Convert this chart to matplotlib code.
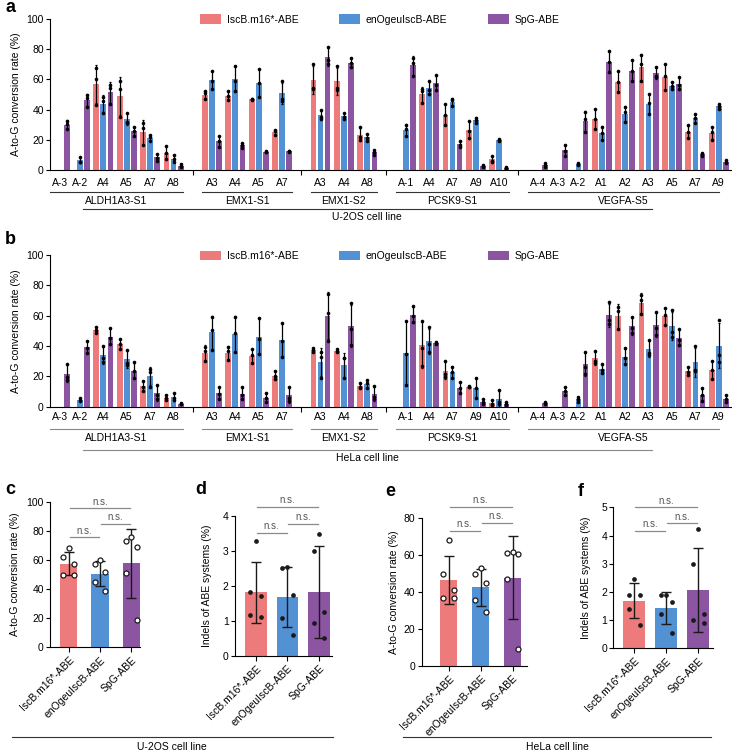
import numpy as np
import matplotlib
matplotlib.use('Agg')
import matplotlib.pyplot as plt
from matplotlib import transforms
from matplotlib.patches import Patch

plt.rcParams['font.family'] = ['Liberation Sans', 'DejaVu Sans']
plt.rcParams['font.size'] = 7.5
plt.rcParams['axes.linewidth'] = 0.8

# ---------------- data ----------------
SERIES = ['IscB.m16*-ABE', 'enOgeuIscB-ABE', 'SpG-ABE']
COLORS = ['#EE7B7B', '#5391D5', '#8C55A2']

GENES = ['ALDH1A3-S1', 'EMX1-S1', 'EMX1-S2', 'PCSK9-S1', 'VEGFA-S5']
SITES = [['A-3', 'A-2', 'A4', 'A5', 'A7', 'A8'],
         ['A3', 'A4', 'A5', 'A7'],
         ['A3', 'A4', 'A8'],
         ['A-1', 'A4', 'A7', 'A9', 'A10'],
         ['A-4', 'A-3', 'A-2', 'A1', 'A2', 'A3', 'A5', 'A7', 'A9']]

# U-2OS replicates (per site, gene order as above); None = not plotted
U2OS_ISCB = [None, None, [67.5, 60.5, 43], [59, 53.5, 35], [31, 28, 16.5], [16, 11, 7],
             [52, 51, 47], [52, 49, 46.5], [47.2, 46.8, 46.4], [26.5, 25.5, 23.5],
             [70, 54.5, 53.5], [69, 54.5, 53], [28.5, 22, 20],
             None, [53.5, 52.5, 44.5], [43.5, 36.5, 30], [32.5, 26, 21], [9.5, 6.2, 5.5],
             None, None, None, [40.5, 34, 27], [65.5, 58, 51.5], [76, 70, 59], [70, 62, 53],
             [29.5, 25, 21], [28.5, 25, 20]]
U2OS_ENOG = [None, [8.5, 5.5, 5], [48.5, 45.5, 37.5], [38, 32, 31], [23, 22, 19.5], [10, 7, 5.5],
             [65.5, 59, 53.5], [69, 59, 52], [67, 57.5, 48.5], [59, 47, 46],
             [39.5, 35, 34], [38, 35, 34], [24, 21.5, 19.5],
             [30, 27, 22.5], [59, 53, 50.5], [47, 46.4, 42.6], [34.7, 33, 30.9], [20.3, 19.9, 19.4],
             None, None, [4.9, 4, 3.3], [28.7, 24.7, 20], [41.5, 38.6, 31.6], [50.3, 44.2, 37.2],
             [58.5, 55.6, 53.4], [37.1, 34.2, 31.3], [43.7, 42.6, 40.2]]
U2OS_SPG = [[32.5, 30.5, 27], [49.5, 48, 41.5], [56.5, 54, 43.5], [28.7, 25.6, 22.7], [10.6, 8.2, 6.2], [3.7, 2.9, 2.2],
            [22.5, 19.4, 15.5], [17.7, 16.6, 14.8], [12.8, 12.1, 11.7], [12.8, 12.3, 11.8],
            [81.7, 72.8, 70.2], [74, 70.6, 68], [13.2, 12.1, 9.9],
            [74.4, 71, 62.5], [62.9, 56.3, 53], [19.2, 16.6, 15.5], [3.3, 2.6, 2.0], [2.0, 1.5, 1.1],
            [4.4, 3.3, 2.2], [16.6, 12.8, 9.5], [38.6, 33.8, 25], [79, 71.3, 64.7], [72.8, 65.6, 59.2],
            [68, 62.3, 61.8], [61.4, 56.3, 53.4], [11, 10.4, 9.5], [6.6, 5.5, 4.4]]

# HeLa replicates
HELA_ISCB = [None, None, [52.7, 50.5, 48.4], [44.4, 41.3, 38], [17.1, 12.7, 10.5], [7.7, 5.5, 4.4],
             [39.6, 36.9, 30.1], [39.6, 36.7, 30.8], [37.8, 34.1, 28.6], [23.5, 20, 18],
             [38.9, 37.4, 36.3], [38, 36.9, 35.8], [15.4, 13.2, 12.5],
             None, [56.5, 39, 26.5], [30, 21.5, 19.5], [13.8, 13.2, 12.7], [4.5, 2, 1],
             None, None, None, [36.9, 30.1, 28.6], [65.5, 63.1, 51], [73.6, 70.3, 61.1],
             [64.8, 60.4, 53.8], [26.4, 23.1, 20.9], [30.3, 24.2, 18]]
HELA_ENOG = [None, [5.9, 4.4, 3.7], [40, 31.9, 29.7], [37.4, 28.6, 27.5], [24.8, 22.6, 13.2], [9.2, 5.5, 4.4],
             [59.3, 50.5, 37.4], [59.3, 48.8, 35.8], [58.7, 44.6, 34.7], [55, 43, 33],
             [36.3, 33, 18.7], [32.3, 31.9, 18.7], [17.6, 15.4, 12.1],
             [56.5, 35, 14], [52.3, 41.1, 36.3], [26.4, 23.1, 19.1], [18.7, 12.1, 5.9], [11, 3, 1.5],
             None, None, [6.6, 4.8, 3.3], [28, 24, 22.5], [38.5, 31.9, 27.9], [44, 35.6, 34.1],
             [63.7, 49.5, 46.2], [40, 24.2, 23.5], [57.1, 34, 29.2]]
HELA_SPG = [[27.9, 19.8, 17.6], [43.5, 38.5, 35.5], [51.6, 45, 41.1], [29.2, 23.5, 18.7], [14.3, 7.7, 4.8], [2.5, 2, 1.5],
            [13.2, 8.4, 5.1], [12.7, 7.7, 4.8], [9.2, 5.5, 3.3], [13, 6, 3.5],
            [74.5, 62, 43.5], [68.1, 51.2, 40.7], [13.6, 6.6, 5.1],
            [66.4, 59.8, 56], [42.9, 42.2, 41.3], [16.5, 12.1, 8.8], [5, 3.3, 1.5], [3, 2, 1],
            [3.3, 2.2, 1.5], [12.8, 10.5, 7.5], [36.3, 25.9, 21.5], [68.8, 57.1, 54.5], [59.3, 51.6, 48.4],
            [62.6, 51.6, 47.3], [51, 44, 40.7], [12.1, 7.7, 4], [7.7, 5.1, 3.3]]

# summary panels (5 target sites each)
C_CONV_U2OS = [[68, 62, 57, 50, 50], [60, 57, 52, 45, 39], [76, 73, 69, 51, 19]]
D_INDEL_U2OS = [[3.27, 1.82, 1.72, 1.16, 1.10], [2.55, 2.50, 1.73, 1.07, 0.60], [3.48, 2.98, 1.26, 0.93, 0.52]]
E_CONV_HELA = [[68, 50, 41, 37, 37], [53, 50, 45, 36, 29], [61.5, 61, 60.5, 47, 9]]
F_INDEL_HELA = [[2.45, 1.90, 1.88, 1.40, 0.83], [1.90, 1.88, 1.63, 1.20, 0.55], [4.23, 3.00, 1.23, 1.00, 0.90]]

# ---------------- layout helpers ----------------
W, H = 732, 751
fig = plt.figure(figsize=(W / 100, H / 100), dpi=100)


def rect(x0, ytop, x1, ybot):
    return [x0 / W, 1 - ybot / H, (x1 - x0) / W, (ybot - ytop) / H]


def fy(y):
    return 1 - y / H


def fx(x):
    return x / W


# site positions
STEP_NEG, STEP_GENE = 0.87, 1.64
pos, labels, gene_of = [], [], []
u = 0.0
for g, sites in enumerate(SITES):
    for k, s in enumerate(sites):
        if pos:
            if k == 0:
                u += STEP_GENE
            elif s.startswith('A-') and sites[k - 1].startswith('A-'):
                u += STEP_NEG
            else:
                u += 1.0
        pos.append(u)
        labels.append(s)
        gene_of.append(g)
pos = np.array(pos)
gene_of = np.array(gene_of)
OFFS = [-0.303, 0.0, 0.303]
BW = 0.245


def site_panel(ax_rect_px, series_data, tick_pad, y_under, y_gene, y_long, y_cell, cell_text, line_col, leg_y):
    ax = fig.add_axes(rect(*ax_rect_px))
    x0px, x1px = ax_rect_px[0], ax_rect_px[2]
    ax.set_xlim((x0px - 59.6) / 23.4, (x1px - 59.6) / 23.4)
    ax.set_ylim(0, 100)
    for s, vals in enumerate(series_data):
        idx = [i for i, v in enumerate(vals) if v is not None]
        xs = pos[idx] + OFFS[s]
        reps = [np.array(vals[i], float) for i in idx]
        m = np.array([r.mean() for r in reps])
        sd = np.array([r.std(ddof=1) for r in reps])
        ax.bar(xs, m, BW, color=COLORS[s], zorder=2, linewidth=0)
        ax.errorbar(xs, m, yerr=sd, fmt='none', ecolor='black', elinewidth=0.9,
                    capsize=1.0, capthick=0.9, zorder=3)
        for x, r in zip(xs, reps):
            ax.plot(np.full(len(r), x), r, 'o', ms=2.6, color='black', mew=0, zorder=4)
    for sp in ['top', 'right']:
        ax.spines[sp].set_visible(False)
    ax.set_yticks([0, 20, 40, 60, 80, 100])
    ax.tick_params(axis='y', length=3, width=0.8, pad=1.5, labelsize=7.5)
    bounds = [(pos[gene_of == g].max() + pos[gene_of == g + 1].min()) / 2 for g in range(len(GENES) - 1)]
    ax.set_xticks(bounds)
    ax.set_xticklabels([''] * len(bounds))
    ax.tick_params(axis='x', which='major', length=3.5, width=0.8)
    ax.set_xticks(pos, minor=True)
    ax.set_xticklabels(labels, minor=True)
    ax.tick_params(axis='x', which='minor', length=0, pad=tick_pad, labelsize=7.5)
    ax.set_ylabel('A-to-G conversion rate (%)', fontsize=7.5, labelpad=4)
    blend = transforms.blended_transform_factory(ax.transData, fig.transFigure)
    for g, name in enumerate(GENES):
        p = pos[gene_of == g]
        a, b = p.min() - 0.42, min(p.max() + 0.42, (x1px - 12 - 59.6) / 23.4)
        ax.plot([a, b], [fy(y_under)] * 2, color=line_col, lw=0.8, transform=blend, clip_on=False)
        ax.text((a + b) / 2, fy(y_gene), name, transform=blend, ha='center', va='center', fontsize=7.5)
    fig.lines.append(plt.Line2D([fx(83), fx(652)], [fy(y_long)] * 2, color=line_col, lw=0.8,
                                transform=fig.transFigure))
    fig.text(fx(367), fy(y_cell), cell_text, ha='center', va='center', fontsize=7.5)
    handles = [Patch(facecolor=c, edgecolor='none', label=l) for c, l in zip(COLORS, SERIES)]
    fig.legend(handles=handles, loc='center left', bbox_to_anchor=(fx(200), fy(leg_y)),
               bbox_transform=fig.transFigure, ncol=3, frameon=False, fontsize=7.5,
               handlelength=2.06, handleheight=1.05, handletextpad=0.5, columnspacing=3.9,
               borderpad=0, borderaxespad=0)
    return ax


site_panel((50, 19, 731, 170), [U2OS_ISCB, U2OS_ENOG, U2OS_SPG], 5.5,
           191.7, 201, 209, 217, 'U-2OS cell line', '#333333', 19.5)
site_panel((50, 255, 731, 406.7), [HELA_ISCB, HELA_ENOG, HELA_SPG], 3.8,
           429.3, 438.3, 449.5, 458.3, 'HeLa cell line', '#888888', 256)


JIT = [0.0, -0.17, 0.17, -0.17, 0.17]


def summary_panel(ax_rect_px, xlim, data, width, ylim, yticks, ylabel, open_pts, sig, ylabel_x):
    ax = fig.add_axes(rect(*ax_rect_px))
    ax.set_xlim(*xlim)
    ax.set_ylim(*ylim)
    means = [np.mean(d) for d in data]
    sds = [np.std(d, ddof=1) for d in data]
    x = np.arange(3)
    ax.bar(x, means, width, color=COLORS, zorder=2, linewidth=0)
    ax.errorbar(x, means, yerr=sds, fmt='none', ecolor='#1a1a1a', elinewidth=1.0,
                capsize=3.8, capthick=1.0, zorder=3)
    for i, d in enumerate(data):
        xs = i + np.array(JIT[:len(d)])
        if open_pts:
            ax.plot(xs, d, 'o', ms=3.6, mfc='white', mec='#1a1a1a', mew=0.9, zorder=4, clip_on=False)
        else:
            ax.plot(xs, d, 'o', ms=3.4, color='#1a1a1a', mew=0, zorder=4, clip_on=False)
    for sp in ['top', 'right']:
        ax.spines[sp].set_visible(False)
    ax.set_yticks(yticks)
    ax.tick_params(axis='y', length=3, width=0.8, pad=1.5, labelsize=7.5)
    ax.set_xticks(x)
    ax.set_xticklabels(SERIES, rotation=45, ha='right', rotation_mode='anchor', fontsize=7.5)
    ax.tick_params(axis='x', length=3.5, width=0.8, pad=2)
    ax.set_ylabel(ylabel, fontsize=7.5)
    ax.yaxis.set_label_coords((ylabel_x - ax_rect_px[0]) / (ax_rect_px[2] - ax_rect_px[0]), 0.5)
    for (i, j, lev) in sig:
        ax.plot([i + 0.03, j - 0.03], [lev, lev], color='#8a8a8a', lw=0.9, clip_on=False)
        ax.text((i + j) / 2, lev + (ylim[1] - ylim[0]) * 0.012, 'n.s.', ha='center', va='bottom',
                fontsize=7, color='#555555', clip_on=False)
    return ax


summary_panel((50, 501.7, 140, 647.3), (-0.6, 2.28), C_CONV_U2OS, 0.55, (0, 100),
              [0, 20, 40, 60, 80, 100], 'A-to-G conversion rate (%)', True,
              [(0, 2, 95.5), (1, 2, 84.7), (0, 1, 75.5)], 20)
summary_panel((235, 515.7, 332, 656), (-0.66, 2.41), D_INDEL_U2OS, 0.69, (0, 4),
              [0, 1, 2, 3, 4], 'Indels of ABE systems (%)', False,
              [(0, 2, 4.25), (1, 2, 3.77), (0, 1, 3.52)], 212)
summary_panel((421.7, 518.3, 526.7, 666), (-0.846, 2.445), E_CONV_HELA, 0.55, (0, 80),
              [0, 20, 40, 60, 80], 'A-to-G conversion rate (%)', True,
              [(0, 2, 86), (1, 2, 77.6), (0, 1, 73.3)], 399)
summary_panel((613.3, 507.3, 712.7, 648.3), (-0.653, 2.45), F_INDEL_HELA, 0.68, (0, 5),
              [0, 1, 2, 3, 4, 5], 'Indels of ABE systems (%)', False,
              [(0, 2, 5.0), (1, 2, 4.43), (0, 1, 4.16)], 591)

for (x0, x1, t, xc) in [(12, 333, 'U-2OS cell line', 172), (403, 711, 'HeLa cell line', 557)]:
    fig.lines.append(plt.Line2D([fx(x0), fx(x1)], [fy(737.3)] * 2, color='#333333', lw=0.8,
                                transform=fig.transFigure))
    fig.text(fx(xc), fy(747.3), t, ha='center', va='center', fontsize=7.5)

for lab, x, y in [('a', 5, 7), ('b', 5, 240), ('c', 5, 490), ('d', 195, 490), ('e', 385, 492), ('f', 578, 492)]:
    fig.text(fx(x), fy(y), lab, fontsize=13, fontweight='bold', ha='left', va='center')

fig.savefig('out.png', dpi=100)
